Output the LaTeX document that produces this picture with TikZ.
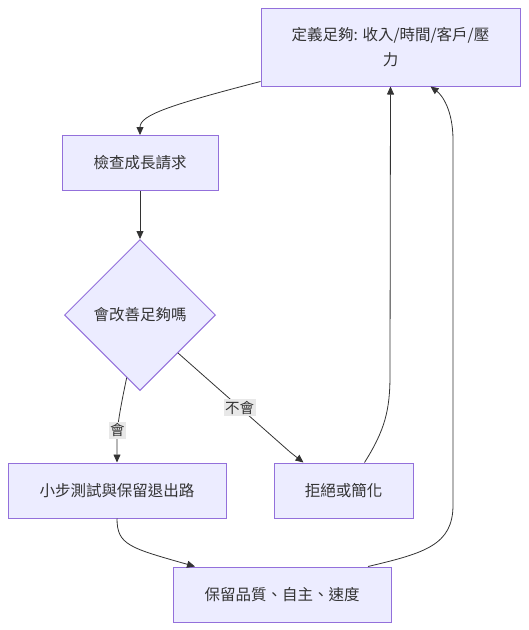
\documentclass[tikz,border=0pt]{standalone}
\usepackage{fontspec}
\setmainfont{Noto Sans CJK TC}
\usetikzlibrary{shapes.geometric,arrows.meta}
\definecolor{boxfill}{HTML}{ECECFF}
\definecolor{boxline}{HTML}{9370DB}
\definecolor{ink}{HTML}{333333}
\definecolor{lblfill}{HTML}{E8E8E8}

\begin{document}
\begin{tikzpicture}[x=1pt,y=-1pt,
  box/.style={draw=boxline,fill=boxfill,line width=1pt,text=ink,font=\fontsize{15.5}{25}\selectfont,minimum height=55pt,inner sep=0pt,align=center},
  ask/.style={box,shape=diamond,aspect=1,minimum width=151pt,minimum height=151pt},
  flow/.style={draw=ink,line width=0.8pt,-{Triangle[length=8pt,width=7pt]}},
  lbl/.style={fill=lblfill,text=ink,font=\fontsize{14.5}{18}\selectfont,inner sep=1.5pt}]
\useasboundingbox (0,0) rectangle (529,630);
\node [box,minimum width=259pt,minimum height=78pt] (A) at (390.5,47) {定義足夠: 收入/時間/客戶/壓\\力};
\node [box,minimum width=156pt] (B) at (140,163) {檢查成長請求};
\node [ask] (C) at (140,315) {會改善足夠嗎};
\node [box,minimum width=218pt] (D) at (117,490.5) {小步測試與保留退出路};
\node [box,minimum width=139pt] (E) at (343.5,490.5) {拒絕或簡化};
\node [box,minimum width=218pt] (F) at (282,594.5) {保留品質、自主、速度};

\draw [flow] ([yshift=5pt]A.south west) .. controls (170,105) and (140,115) .. (B.north);
\draw [flow] (B.south) -- (C.north);
\draw [flow] (C.258) .. controls (121,405) and (117,425) .. (117,440) node [lbl,pos=0.8] {會} -- (D.north);
\draw [flow] (C.south east) -- (290,452) node [lbl,pos=0.55] {不會} .. controls (295,456) and (299,459) .. ([xshift=-40pt]E.north);
\draw [flow] ([xshift=21pt]E.north) .. controls (385,430) and (390,410) .. (390,375) -- (A.south);
\draw [flow] (D.south) .. controls (117,545) and (130,548) .. ([xshift=-87pt]F.north);
\draw [flow] ([xshift=86pt]F.north) .. controls (425,553) and (453,545) .. (453,505) -- (453,140) .. controls (453,110) and (442,95) .. ([xshift=40pt]A.south);

\end{tikzpicture}
\end{document}
